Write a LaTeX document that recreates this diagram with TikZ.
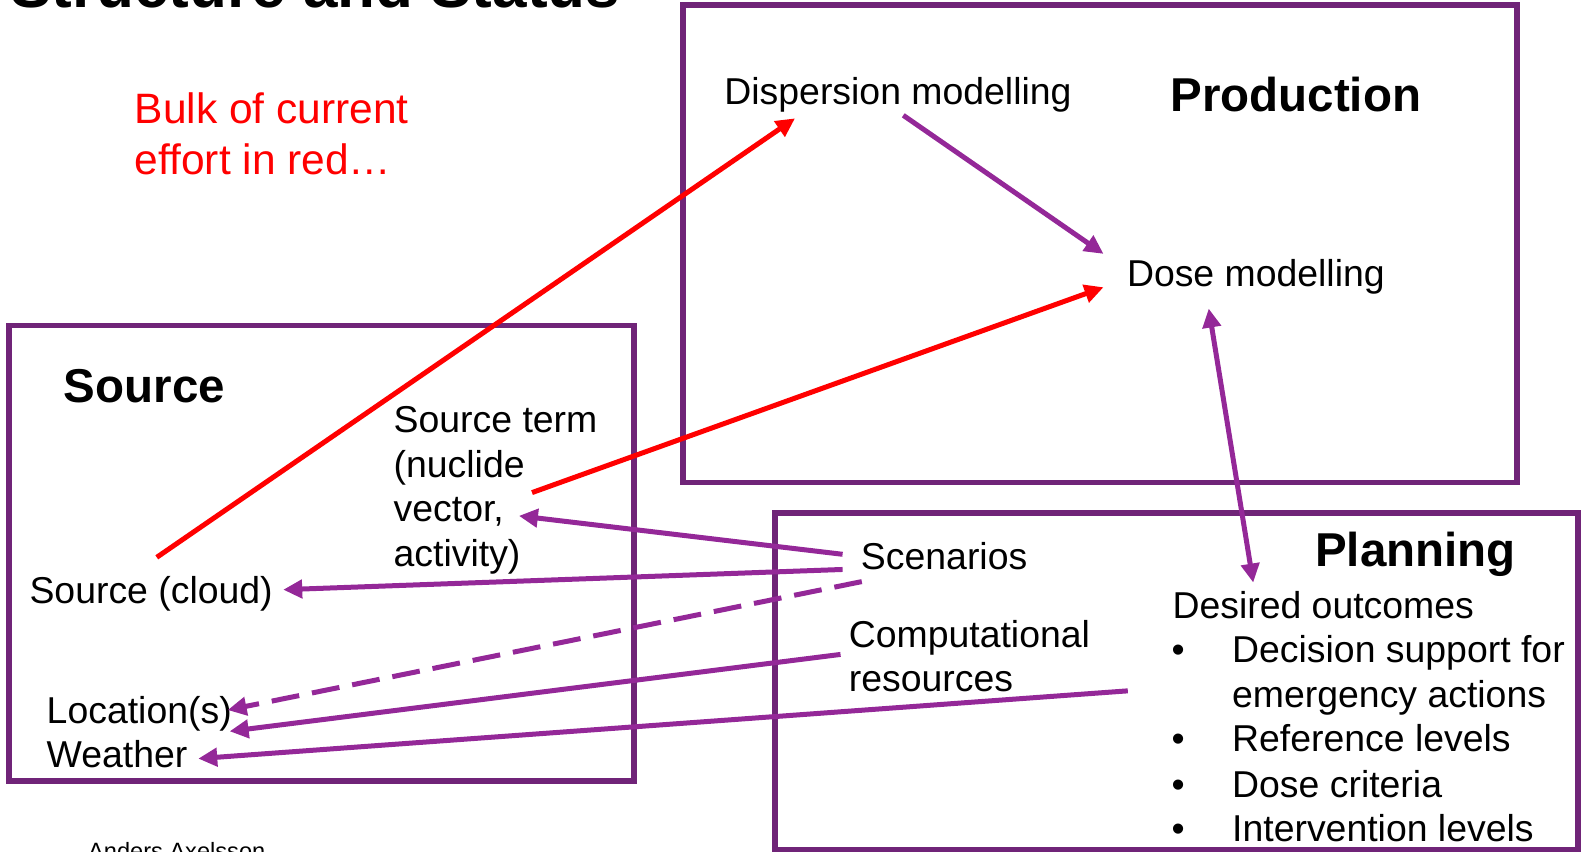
\documentclass[tikz,border=0pt]{standalone}
\usepackage{fontspec}
\setmainfont{Liberation Sans}
\usetikzlibrary{arrows.meta}
\definecolor{boxc}{RGB}{112,36,120}
\definecolor{arrc}{RGB}{148,40,152}
\definecolor{redc}{RGB}{255,0,0}
\tikzset{
  lbl/.style={inner sep=0pt, anchor=base west, font=\fontsize{37.4}{44}\selectfont},
  hdr/.style={inner sep=0pt, anchor=base west, font=\fontsize{47.5}{56}\selectfont\bfseries},
  frame/.style={draw=boxc, line width=5.5pt},
  parr/.style={draw=arrc, line width=5pt, -{Triangle[length=19pt,width=18pt]}},
  rarr/.style={draw=redc, line width=5pt, -{Triangle[length=19pt,width=18pt]}},
}
\begin{document}
\begin{tikzpicture}[x=1.01148pt,y=-1.01148pt]
\useasboundingbox (0,0) rectangle (1568,842.3);
% frames
\draw[frame] (675,5) rectangle (1500,477);
\draw[frame] (9,322) rectangle (627,772);
\draw[frame] (766,507) rectangle (1560,840);
% title and footer (cut off)
\node[inner sep=0pt, anchor=base west, font=\fontsize{62}{70}\selectfont\bfseries] (title) at (10,7) {Structure and Status};
\node[inner sep=0pt, anchor=base west, font=\fontsize{23.6}{28}\selectfont] (author) at (87,850) {Anders Axelsson};
% red note
\node[inner sep=0pt, anchor=base west, font=\fontsize{42.5}{52}\selectfont, text=redc] (bulk1) at (133,122) {Bulk of current};
\node[inner sep=0pt, anchor=base west, font=\fontsize{42.5}{52}\selectfont, text=redc] (bulk2) at (133,173) {effort in red…};
% headers
\node[hdr] (prod) at (1157,110) {Production};
\node[hdr] (src) at (63,398) {Source};
\node[hdr] (plan) at (1300,560) {Planning};
% labels
\node[lbl] (disp) at (716,103) {Dispersion modelling};
\node[lbl] (dose) at (1114,283) {Dose modelling};
\node[lbl] (st1) at (389,428) {Source term};
\node[lbl] (st2) at (389,472) {(nuclide};
\node[lbl] (st3) at (389,516) {vector,};
\node[lbl] (st4) at (389,560) {activity)};
\node[lbl] (cloud) at (29,597) {Source (cloud)};
\node[lbl] (loc) at (46,715) {Location(s)};
\node[lbl] (weather) at (46,759) {Weather};
\node[lbl] (scen) at (851,563) {Scenarios};
\node[lbl] (comp1) at (839,640) {Computational};
\node[lbl] (comp2) at (839,684) {resources};
\node[lbl] (des) at (1159,611) {Desired outcomes};
\foreach \y/\t [count=\i] in {655/Decision support for, 699/emergency actions, 743/Reference levels, 788/Dose criteria, 832/Intervention levels}{
  \node[lbl] (item\i) at (1218,\y) {\t};
}
\foreach \y [count=\i] in {655,743,788,832}{
  \node[lbl] (bul\i) at (1158,\y) {•};
}
% connector end points
\coordinate (cloudTop) at (155,551);
\coordinate (dispIn) at (786,117);
\coordinate (stOut) at (526,487);
\coordinate (doseIn1) at (1091,284);
\coordinate (dispOut) at (893,114);
\coordinate (doseIn2) at (1091,251);
\coordinate (doseBot) at (1195,305);
\coordinate (desTop) at (1239,576);
\coordinate (scenA) at (833,548);
\coordinate (stIn) at (513,510);
\coordinate (scenB) at (833,563);
\coordinate (cloudIn) at (280,583);
\coordinate (scenC) at (852,575);
\coordinate (locIn1) at (225,702);
\coordinate (compOut) at (831,647);
\coordinate (locIn2) at (227,723);
\coordinate (desOut) at (1115,683);
\coordinate (weatherIn) at (196,750);
% red arrows
\draw[rarr] (cloudTop) -- (dispIn);
\draw[rarr] (stOut) -- (doseIn1);
% purple arrows
\draw[parr] (dispOut) -- (doseIn2);
\draw[parr, {Triangle[length=19pt,width=18pt]}-{Triangle[length=19pt,width=18pt]}] (doseBot) -- (desTop);
\draw[parr] (scenA) -- (stIn);
\draw[parr] (scenB) -- (cloudIn);
\draw[parr, dash pattern=on 28pt off 13pt] (scenC) -- (locIn1);
\draw[parr] (compOut) -- (locIn2);
\draw[parr] (desOut) -- (weatherIn);
\end{tikzpicture}
\end{document}
